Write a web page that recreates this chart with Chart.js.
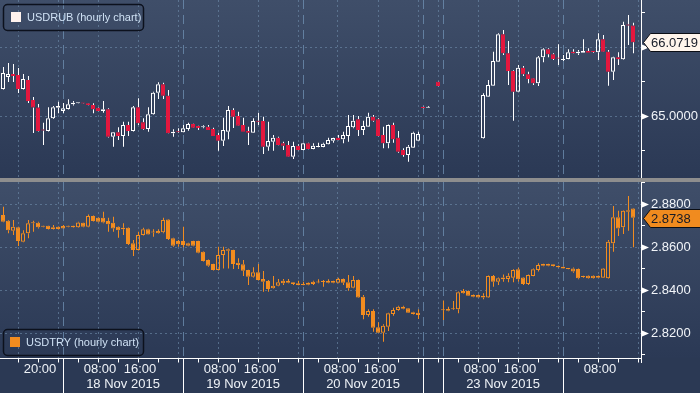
<!DOCTYPE html>
<html>
<head>
<meta charset="utf-8">
<script src="https://cdn.jsdelivr.net/npm/chart.js@4.4.0/dist/chart.umd.min.js"></script>
<style>
html, body { margin: 0; padding: 0; background: #8e8e8e; }
body { width: 700px; height: 393px; position: relative; overflow: hidden; }
canvas { position: absolute; left: 0; }
#rub { top: 0; }
#try { top: 182px; }
</style>
</head>
<body>
<canvas id="rub" width="700" height="178"></canvas>
<canvas id="try" width="700" height="211"></canvas>
<script>
// hourly slots, index = slot number (weekend slots are null)
const rubOpen = [65.584,65.396,65.570,65.613,65.598,65.396,65.526,65.236,65.127,64.809,64.787,64.971,65.125,65.077,65.106,65.174,65.188,65.190,65.188,65.164,65.125,65.077,65.101,64.704,64.768,64.714,64.874,64.787,65.130,64.913,64.816,65.029,65.342,65.464,65.299,64.754,64.784,64.768,64.816,64.888,64.859,64.840,64.849,64.816,64.729,64.646,64.777,65.091,65.004,64.874,64.787,64.762,64.936,64.932,64.559,64.632,64.690,64.609,64.584,64.414,64.574,64.512,64.609,64.526,64.555,64.555,64.594,64.646,64.690,64.667,64.714,64.841,64.956,64.801,64.849,64.994,64.956,64.729,64.609,64.874,64.690,64.512,64.439,64.545,64.646,65.135,65.125,null,65.501,null,null,null,null,null,null,null,null,64.681,65.284,65.443,65.791,66.188,65.913,65.657,65.356,65.704,65.609,65.551,65.478,65.855,65.971,65.899,65.845,65.816,65.830,65.936,65.913,65.922,65.946,65.938,65.928,66.116,65.936,65.646,65.855,65.826,66.330,66.316];
const rubHigh = [65.642,65.714,65.772,65.758,65.700,65.613,65.584,65.280,65.178,64.907,65.130,65.149,65.212,65.193,65.246,65.222,65.194,65.192,65.193,65.188,65.130,65.222,65.116,64.772,64.841,64.922,64.922,65.149,65.261,64.971,65.130,65.356,65.493,65.487,65.381,64.812,64.826,64.874,64.907,64.892,64.862,64.870,64.874,64.835,64.762,64.980,65.149,65.116,65.067,64.980,64.849,64.971,65.052,64.994,64.922,64.729,64.704,64.632,64.642,64.632,64.594,64.612,64.617,64.609,64.617,64.617,64.690,64.688,64.729,64.777,65.019,65.019,65.004,64.936,65.052,65.019,64.971,64.849,64.880,64.907,64.787,64.536,64.584,64.777,64.777,65.137,65.149,null,65.505,null,null,null,null,null,null,null,null,65.333,65.526,65.936,66.203,66.251,66.091,65.667,65.743,65.729,65.646,65.556,65.874,65.986,65.986,65.913,66.043,65.888,65.971,65.971,65.961,66.116,65.986,65.939,66.203,66.178,65.961,65.864,65.928,66.371,66.468,66.356];
const rubLow = [65.352,65.390,65.497,65.497,65.338,65.390,65.193,64.758,64.780,64.584,64.780,64.961,65.043,65.048,65.100,65.156,65.186,65.184,65.160,65.043,65.072,65.052,64.693,64.559,64.656,64.559,64.714,64.780,64.874,64.801,64.777,65.022,65.251,65.251,64.750,64.704,64.758,64.765,64.791,64.832,64.801,64.826,64.801,64.714,64.501,64.570,64.667,64.830,64.859,64.777,64.584,64.758,64.874,64.454,64.501,64.501,64.580,64.511,64.410,64.381,64.508,64.508,64.522,64.522,64.552,64.552,64.590,64.617,64.654,64.609,64.632,64.826,64.714,64.729,64.845,64.922,64.710,64.536,64.536,64.617,64.473,64.414,64.342,64.540,64.642,65.118,65.122,null,65.435,null,null,null,null,null,null,null,null,64.676,65.280,65.440,65.788,65.888,65.454,64.936,65.350,65.584,65.478,65.454,65.439,65.783,65.855,65.816,65.743,65.801,65.826,65.910,65.888,65.920,65.920,65.920,65.816,65.932,65.443,65.526,65.743,65.820,66.033,65.913];
const rubClose = [65.396,65.627,65.613,65.584,65.396,65.541,65.222,65.127,64.787,64.794,64.971,65.130,65.149,65.116,65.174,65.197,65.192,65.186,65.164,65.101,65.077,65.101,64.704,64.768,64.714,64.874,64.787,65.130,64.898,64.812,65.029,65.342,65.464,65.299,64.754,64.777,64.770,64.826,64.888,64.835,64.830,64.855,64.801,64.714,64.646,64.801,65.091,64.994,64.864,64.777,64.762,64.932,64.922,64.559,64.642,64.690,64.584,64.574,64.414,64.570,64.512,64.609,64.526,64.574,64.570,64.603,64.656,64.685,64.656,64.729,64.859,64.936,64.801,64.859,64.994,64.936,64.714,64.609,64.874,64.667,64.487,64.439,64.559,64.762,64.743,65.120,65.139,null,65.439,null,null,null,null,null,null,null,null,65.309,65.454,65.801,66.188,65.913,65.657,65.356,65.704,65.609,65.541,65.478,65.855,65.971,65.899,65.830,65.836,65.830,65.928,65.913,65.936,65.946,65.922,65.932,66.116,65.936,65.646,65.855,65.826,66.323,66.316,66.0719];

const tryOpen = [2.8781,2.8750,2.8724,2.8677,2.8693,2.8626,2.8665,2.8716,2.8714,2.8700,2.8700,2.8693,2.8696,2.8699,2.8700,2.8700,2.8693,2.8714,2.8696,2.8746,2.8738,2.8738,2.8722,2.8714,2.8696,2.8691,2.8691,2.8619,2.8587,2.8657,2.8684,2.8671,2.8676,2.8670,2.8730,2.8642,2.8629,2.8629,2.8619,2.8629,2.8629,2.8580,2.8541,2.8522,2.8494,2.8564,2.8584,2.8587,2.8528,2.8521,2.8494,2.8463,2.8484,2.8453,2.8443,2.8409,2.8421,2.8445,2.8443,2.8437,2.8433,2.8429,2.8435,2.8440,2.8438,2.8441,2.8443,2.8443,2.8435,2.8453,2.8437,2.8412,2.8448,2.8370,2.8285,2.8304,2.8228,2.8203,2.8231,2.8290,2.8308,2.8324,2.8316,2.8298,2.8296,null,null,null,null,2.8309,2.8313,2.8312,2.8312,2.8397,2.8397,2.8378,2.8378,2.8375,2.8366,2.8467,2.8440,2.8451,2.8453,2.8459,2.8498,2.8460,2.8429,2.8467,2.8494,2.8522,2.8522,2.8521,2.8513,2.8510,2.8502,2.8502,2.8499,2.8464,2.8468,2.8468,2.8467,2.8459,2.8456,2.8619,2.8740,2.8693,2.8773,2.8781];
const tryHigh = [2.8787,2.8789,2.8727,2.8727,2.8696,2.8680,2.8727,2.8724,2.8719,2.8702,2.8702,2.8704,2.8698,2.8704,2.8702,2.8702,2.8719,2.8716,2.8753,2.8748,2.8740,2.8766,2.8738,2.8742,2.8698,2.8712,2.8693,2.8634,2.8673,2.8691,2.8686,2.8684,2.8684,2.8738,2.8732,2.8644,2.8634,2.8696,2.8621,2.8631,2.8631,2.8582,2.8543,2.8524,2.8603,2.8603,2.8595,2.8589,2.8549,2.8541,2.8496,2.8507,2.8522,2.8490,2.8448,2.8467,2.8453,2.8453,2.8453,2.8439,2.8445,2.8440,2.8437,2.8445,2.8451,2.8448,2.8451,2.8445,2.8459,2.8455,2.8471,2.8467,2.8450,2.8378,2.8312,2.8312,2.8251,2.8242,2.8296,2.8319,2.8328,2.8328,2.8318,2.8300,2.8312,null,null,null,null,2.8352,2.8324,2.8350,2.8394,2.8406,2.8399,2.8380,2.8380,2.8386,2.8469,2.8471,2.8460,2.8474,2.8479,2.8498,2.8505,2.8462,2.8474,2.8502,2.8526,2.8524,2.8524,2.8523,2.8515,2.8512,2.8504,2.8506,2.8501,2.8468,2.8470,2.8470,2.8469,2.8504,2.8634,2.8792,2.8770,2.8773,2.8839,2.8783];
const tryLow = [2.8746,2.8717,2.8665,2.8657,2.8606,2.8624,2.8642,2.8673,2.8688,2.8694,2.8683,2.8683,2.8683,2.8686,2.8694,2.8691,2.8691,2.8694,2.8694,2.8720,2.8717,2.8712,2.8673,2.8673,2.8645,2.8657,2.8611,2.8560,2.8585,2.8655,2.8658,2.8649,2.8663,2.8665,2.8634,2.8603,2.8603,2.8600,2.8605,2.8605,2.8573,2.8534,2.8510,2.8492,2.8492,2.8502,2.8502,2.8499,2.8499,2.8467,2.8425,2.8460,2.8446,2.8393,2.8393,2.8407,2.8419,2.8425,2.8433,2.8425,2.8423,2.8423,2.8424,2.8425,2.8433,2.8417,2.8433,2.8433,2.8433,2.8425,2.8398,2.8410,2.8364,2.8265,2.8277,2.8207,2.8201,2.8161,2.8211,2.8282,2.8305,2.8312,2.8294,2.8288,2.8267,null,null,null,null,2.8262,2.8303,2.8308,2.8293,2.8384,2.8373,2.8368,2.8365,2.8358,2.8364,2.8417,2.8425,2.8440,2.8437,2.8437,2.8440,2.8425,2.8425,2.8465,2.8487,2.8512,2.8512,2.8511,2.8505,2.8500,2.8498,2.8482,2.8451,2.8459,2.8454,2.8454,2.8457,2.8457,2.8454,2.8579,2.8653,2.8662,2.8677,2.8600];
const tryClose = [2.8750,2.8719,2.8680,2.8696,2.8629,2.8665,2.8712,2.8712,2.8693,2.8696,2.8685,2.8685,2.8685,2.8688,2.8696,2.8693,2.8716,2.8696,2.8746,2.8722,2.8719,2.8716,2.8707,2.8688,2.8680,2.8684,2.8615,2.8587,2.8657,2.8684,2.8660,2.8669,2.8665,2.8727,2.8639,2.8607,2.8614,2.8611,2.8607,2.8607,2.8575,2.8536,2.8514,2.8494,2.8564,2.8587,2.8591,2.8522,2.8518,2.8491,2.8463,2.8484,2.8448,2.8440,2.8406,2.8421,2.8437,2.8433,2.8435,2.8429,2.8425,2.8425,2.8426,2.8429,2.8436,2.8439,2.8435,2.8435,2.8453,2.8435,2.8409,2.8448,2.8366,2.8285,2.8304,2.8226,2.8203,2.8235,2.8293,2.8308,2.8324,2.8314,2.8296,2.8290,2.8285,null,null,null,null,2.8307,2.8305,2.8314,2.8391,2.8386,2.8375,2.8370,2.8367,2.8366,2.8467,2.8440,2.8456,2.8460,2.8468,2.8494,2.8451,2.8429,2.8471,2.8498,2.8518,2.8514,2.8514,2.8513,2.8507,2.8502,2.8499,2.8487,2.8456,2.8462,2.8456,2.8456,2.8459,2.8502,2.8626,2.8740,2.8688,2.8770,2.8766,2.8738];

// axis: slots, ticks and labels
const GRID_SLOTS = [4, 12, 20, 28, 36, 44, 52, 60, 68, 76, 84, 88, 96, 104, 112, 120, 128];
const DAY_BOUNDS = [13, 37, 61, 85, 89, 113];
const TIME_SLOTS = [8, 20, 28, 44, 52, 68, 76, 96, 104, 120];
const TIME_LABELS = ['20:00', '08:00', '16:00', '08:00', '16:00', '08:00', '16:00', '08:00', '16:00', '08:00'];
const DAY_LABELS = ['18 Nov 2015', '19 Nov 2015', '20 Nov 2015', '23 Nov 2015'];
const DAY_START = [13, 37, 61, 89];
const DAY_END = [37, 61, 85, 113];
const RUB_TICKS = [64.5, 65, 65.5, 66, 66.5];
const RUB_LABELLED = [65, 66];
const TRY_TICKS = [2.81, 2.82, 2.83, 2.84, 2.85, 2.86, 2.87, 2.88, 2.89];
const TRY_LABELLED = [2.82, 2.84, 2.86, 2.88];

const SLOT_MIN = 0.4, SLOT_MAX = 128.6;
const FONT = "'Liberation Sans', Arial, sans-serif";
const GRID = 'rgba(112,142,172,0.6)';
const SEP = 'rgba(112,146,180,0.75)';
const CLEAR = 'rgba(0,0,0,0)';

function buildCandles(open, high, low, close) {
  const body = [], upper = [], lower = [];
  open.forEach((o, i) => {
    if (o === null) return;
    const c = close[i];
    const top = Math.max(o, c), bot = Math.min(o, c);
    body.push({x: i, y: [bot, top], up: c >= o});
    upper.push({x: i, y: [top, high[i]]});
    lower.push({x: i, y: [low[i], bot]});
  });
  return {body, upper, lower};
}

// background gradient behind each panel
const background = {
  id: 'background',
  beforeDraw(chart) {
    const {ctx, chartArea: a, width, height} = chart;
    const g = ctx.createLinearGradient(0, a.top, 0, a.bottom);
    g.addColorStop(0, '#3f4e69');
    g.addColorStop(1, '#2b3955');
    ctx.save();
    ctx.fillStyle = g;
    ctx.fillRect(0, a.top, width, a.bottom - a.top);
    if (height > a.bottom) {
      ctx.fillStyle = '#2b3954';
      ctx.fillRect(0, a.bottom, width, height - a.bottom);
    }
    ctx.restore();
  }
};

// long dashed day separators
const daySeparators = {
  id: 'daySeparators',
  beforeDatasetsDraw(chart) {
    const {ctx, chartArea: a, scales: {x}} = chart;
    ctx.save();
    ctx.strokeStyle = SEP;
    ctx.lineWidth = 1;
    ctx.setLineDash([9, 6]);
    DAY_BOUNDS.forEach(b => {
      const px = Math.round(x.getPixelForValue(b)) + 0.5;
      ctx.beginPath();
      ctx.moveTo(px, a.top);
      ctx.lineTo(px, a.bottom);
      ctx.stroke();
    });
    ctx.restore();
  }
};

// legend box, tick arrows and last value callout
const overlay = {
  id: 'overlay',
  afterDraw(chart, args, o) {
    const {ctx, chartArea: a, scales: {y}} = chart;
    ctx.save();
    ctx.fillStyle = '#ffffff';
    o.labelled.forEach(v => {
      const py = Math.round(y.getPixelForValue(v)) + 0.5;
      ctx.beginPath();
      ctx.moveTo(a.right + 1, py - 3);
      ctx.lineTo(a.right + 8, py);
      ctx.lineTo(a.right + 1, py + 3);
      ctx.closePath();
      ctx.fill();
    });

    ctx.lineWidth = 1.5;
    ctx.strokeStyle = '#0c111d';
    ctx.beginPath();
    ctx.roundRect(3.5, o.legendTop + 0.5, 140, 26, 4);
    ctx.stroke();
    ctx.fillStyle = o.swatch;
    ctx.fillRect(o.swatchX, o.legendTop + 8, 10, 10);
    ctx.font = '11px ' + FONT;
    ctx.fillStyle = '#cfe1f4';
    ctx.textAlign = 'left';
    ctx.textBaseline = 'middle';
    ctx.fillText(o.legend, o.swatchX + 16, o.legendTop + 13.5);

    const cy = Math.round(y.getPixelForValue(o.last)) + 0.5;
    ctx.beginPath();
    ctx.moveTo(a.right + 2.5, cy);
    ctx.lineTo(a.right + 9.5, cy - 9);
    ctx.lineTo(chart.width + 2, cy - 9);
    ctx.lineTo(chart.width + 2, cy + 9);
    ctx.lineTo(a.right + 9.5, cy + 9);
    ctx.closePath();
    ctx.fillStyle = o.calloutFill;
    ctx.fill();
    ctx.lineWidth = 1;
    ctx.strokeStyle = '#0b0e15';
    ctx.stroke();
    ctx.fillStyle = '#161b27';
    ctx.font = '13px ' + FONT;
    ctx.fillText(o.last.toFixed(4), a.right + 10, cy + 0.5);
    ctx.restore();
  }
};

// shared time axis under the lower panel
const timeAxis = {
  id: 'timeAxis',
  afterDraw(chart) {
    const {ctx, chartArea: a, scales: {x}} = chart;
    const yb = a.bottom + 0.5;
    ctx.save();
    ctx.strokeStyle = '#ffffff';
    ctx.lineWidth = 1;
    ctx.beginPath();
    ctx.moveTo(0, yb);
    ctx.lineTo(a.right + 1, yb);
    for (let s = 4; s <= 128; s += 4) {
      const px = Math.round(x.getPixelForValue(s)) + 0.5;
      ctx.moveTo(px, yb);
      ctx.lineTo(px, yb + 4);
    }
    DAY_BOUNDS.forEach(b => {
      const px = Math.round(x.getPixelForValue(b)) + 0.5;
      ctx.moveTo(px, yb);
      ctx.lineTo(px, chart.height);
    });
    ctx.moveTo(a.right + 0.5, a.bottom - 5);
    ctx.lineTo(a.right + 0.5, a.bottom + 5);
    ctx.stroke();

    ctx.fillStyle = '#eef2f7';
    ctx.font = '13px ' + FONT;
    ctx.textAlign = 'center';
    ctx.textBaseline = 'middle';
    TIME_SLOTS.forEach((s, i) => {
      ctx.fillText(TIME_LABELS[i], x.getPixelForValue(s) + 2, a.bottom + 11);
    });
    DAY_LABELS.forEach((t, i) => {
      const mid = (x.getPixelForValue(DAY_START[i]) + x.getPixelForValue(DAY_END[i])) / 2;
      ctx.fillText(t, mid, a.bottom + 26.5);
    });
    ctx.restore();
  }
};

function candleChart(id, series, look) {
  const c = buildCandles(series.open, series.high, series.low, series.close);
  const isMajor = v => look.labelled.includes(v);
  const extra = [background, daySeparators, overlay];
  if (look.axisHeight) extra.push(timeAxis);

  return new Chart(document.getElementById(id), {
    type: 'bar',
    data: {
      datasets: [
        {
          data: c.body, xAxisID: 'x', order: 0, grouped: false,
          barThickness: 4, minBarLength: 1, borderWidth: 1,
          borderSkipped: false, inflateAmount: 0,
          backgroundColor: ctx => (ctx.raw && ctx.raw.up) ? CLEAR : look.down,
          borderColor: ctx => (ctx.raw && ctx.raw.up) ? look.up : look.down
        },
        {
          data: c.upper, xAxisID: 'xw', order: 1, grouped: false,
          barThickness: 1, borderWidth: 0, inflateAmount: 0,
          backgroundColor: look.wick
        },
        {
          data: c.lower, xAxisID: 'xw', order: 1, grouped: false,
          barThickness: 1, borderWidth: 0, inflateAmount: 0,
          backgroundColor: look.wick
        }
      ]
    },
    options: {
      responsive: false,
      animation: false,
      devicePixelRatio: 1,
      layout: {padding: 0},
      plugins: {
        legend: {display: false},
        tooltip: {enabled: false},
        overlay: {
          legend: look.legend, swatch: look.swatch, swatchX: look.swatchX,
          legendTop: look.legendTop, labelled: look.labelled,
          last: series.close[series.close.length - 1], calloutFill: look.calloutFill
        }
      },
      scales: {
        x: {
          type: 'linear', min: SLOT_MIN, max: SLOT_MAX, offset: false,
          afterBuildTicks: s => { s.ticks = GRID_SLOTS.map(v => ({value: v})); },
          afterFit: s => { s.height = look.axisHeight; s.paddingLeft = 0; s.paddingRight = 0; },
          ticks: {display: false},
          grid: {offset: false, drawTicks: false, color: GRID, lineWidth: 1},
          border: {display: false, dash: [2, 3]}
        },
        xw: {
          type: 'linear', min: SLOT_MIN - 0.1, max: SLOT_MAX - 0.1, offset: false, display: false
        },
        y: {
          position: 'right', min: look.min, max: look.max,
          afterBuildTicks: s => { s.ticks = look.ticks.map(v => ({value: v})); },
          afterFit: s => { s.width = 59; s.paddingTop = 0; s.paddingBottom = 0; },
          ticks: {
            autoSkip: false, padding: 6, color: '#f2f5f9',
            font: {family: FONT, size: 13},
            callback: v => isMajor(v) ? v.toFixed(4) : ''
          },
          grid: {
            color: ctx => (ctx.tick && isMajor(ctx.tick.value)) ? GRID : CLEAR,
            tickColor: ctx => (ctx.tick && isMajor(ctx.tick.value)) ? CLEAR : '#ffffff',
            tickLength: 4, tickWidth: 1, tickBorderDash: [], lineWidth: 1
          },
          border: {display: true, color: '#ffffff', width: 1, dash: [2, 3]}
        }
      }
    },
    plugins: extra
  });
}

candleChart('rub',
  {open: rubOpen, high: rubHigh, low: rubLow, close: rubClose},
  {
    min: 64.1058, max: 66.6855, ticks: RUB_TICKS, labelled: RUB_LABELLED,
    up: '#ffffff', down: '#e3173e', wick: '#ffffff',
    legend: 'USDRUB (hourly chart)', swatch: '#fff3ee', swatchX: 11, legendTop: 4,
    calloutFill: '#fff5ec', axisHeight: 0
  });

candleChart('try',
  {open: tryOpen, high: tryHigh, low: tryLow, close: tryClose},
  {
    min: 2.8085, max: 2.8904, ticks: TRY_TICKS, labelled: TRY_LABELLED,
    up: '#f28c1f', down: '#f28c1f', wick: '#f28c1f',
    legend: 'USDTRY (hourly chart)', swatch: '#f28c1f', swatchX: 10, legendTop: 147,
    calloutFill: '#f08b1f', axisHeight: 35
  });
</script>
</body>
</html>
